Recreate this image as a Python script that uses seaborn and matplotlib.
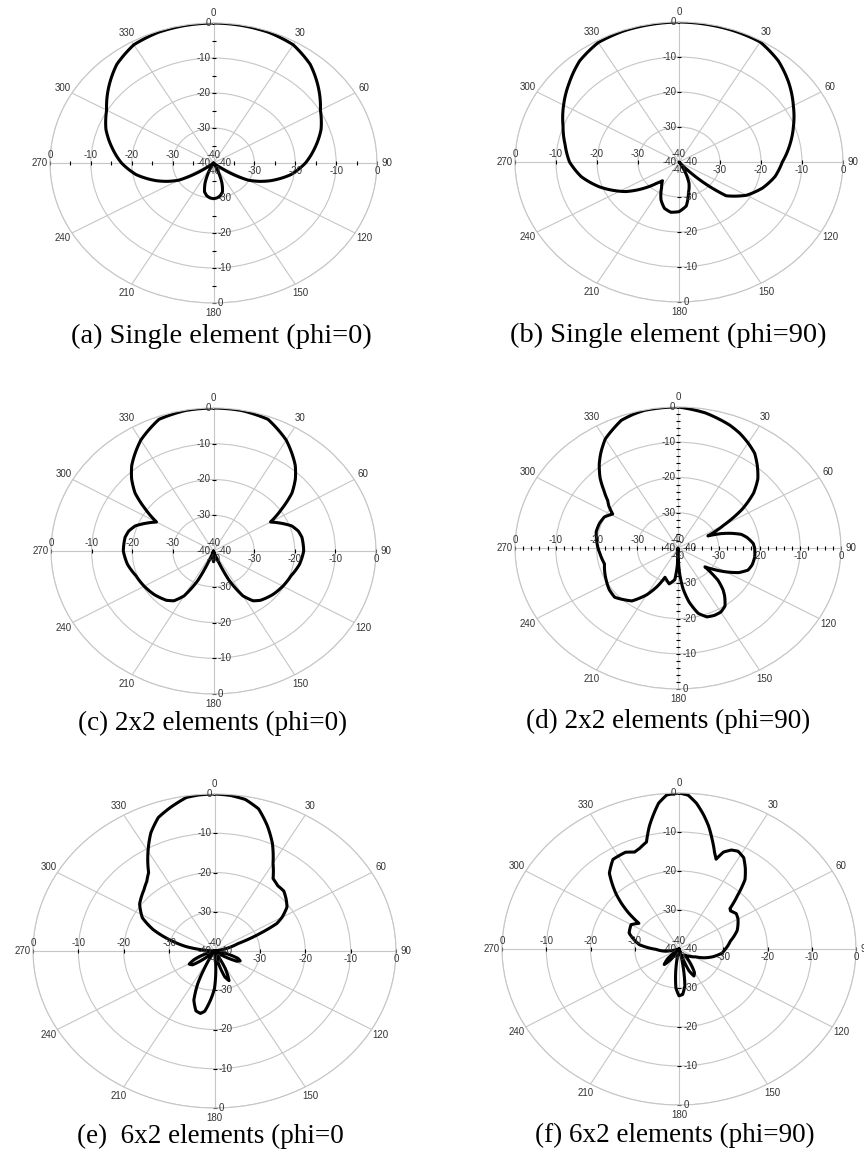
import numpy as np
import matplotlib
matplotlib.use("Agg")
import matplotlib.pyplot as plt
import seaborn as sns

# ---- radiation patterns (angle in deg, gain in dB) ----
a_angle = [0, 10, 20, 30, 40, 50, 60, 70, 80, 90, 100, 110, 115, 120, 124, 128, 132,
           150, 155, 160, 165, 170, 175, 180, 185, 190, 195, 200, 205, 210,
           228, 232, 236, 240, 245, 250, 260, 270, 280, 290, 300, 310, 320, 330, 340, 350, 360]
a_gain = [0, -0.1, -0.3, -1.0, -3.2, -6.5, -9.8, -12.0, -14.8, -17.5, -20.8, -25.2, -27.6, -30.2, -34, -38, -40,
          -40, -37.5, -34, -31.5, -30.5, -30, -29.8, -30, -30.5, -31.5, -34, -37.5, -40,
          -40, -38, -34, -30.2, -27.6, -25.2, -20.8, -17.5, -14.8, -12.0, -9.8, -6.5, -3.2, -1.0, -0.3, -0.1, 0]

b_angle = [0, 10, 20, 30, 40, 50, 60, 70, 80, 90, 100, 110, 120, 130, 134, 138, 142, 148,
           152, 158, 165, 172, 180, 188, 195, 202, 210, 217, 222, 228,
           237, 245, 250, 260, 270, 280, 290, 300, 310, 320, 330, 340, 350, 360]
b_gain = [0, -0.1, -0.2, -0.4, -2.3, -5.0, -7.8, -10.3, -12.6, -14.8, -16.2, -18.3, -21.0, -25.0, -31, -37, -40, -40,
          -37, -33.5, -31, -27.3, -25.8, -25.5, -26.3, -28.3, -31.5, -33.3, -31.8, -29,
          -24.5, -21.3, -19.3, -15.8, -13.3, -11.8, -9.9, -7.5, -5.0, -2.3, -0.6, -0.2, -0.1, 0]

c_angle = [0, 10, 20, 30, 40, 45, 50, 55, 60, 63, 66, 70, 75, 80, 90,
           100, 110, 120, 130, 140, 145, 150, 155, 158, 162, 170, 175, 180, 185, 190,
           198, 202, 205, 210, 215, 220, 230, 240, 250, 260, 270,
           280, 285, 290, 294, 297, 300, 305, 310, 315, 320, 330, 340, 350, 360]
c_gain = [0, -0.1, -0.8, -4.2, -8.7, -11.5, -14.8, -19.5, -23.8, -22.5, -21.2, -19.5, -18.4, -17.9, -17.8,
          -18.5, -19.7, -20.3, -21, -22, -23, -25.5, -31, -37, -40, -40, -38, -37, -38, -40,
          -40, -37, -31, -25.5, -23, -22, -21, -20.3, -19.7, -18.5, -17.8,
          -17.9, -18.4, -19.5, -21.2, -22.5, -23.8, -19.5, -14.8, -11.5, -8.7, -4.2, -0.8, -0.1, 0]

d_angle = [0, 10, 20, 25, 30, 35, 40, 45, 50, 55, 60, 65, 69, 72, 76, 80, 86, 90, 98, 105,
           110, 115, 120, 125, 129, 133, 137, 140, 145, 150, 155, 160, 165, 170, 174, 177, 180, 182, 185, 192,
           197, 201, 205, 210, 217, 228, 235, 242, 256, 265, 271, 283, 290, 296, 301, 305, 308, 312, 316, 321,
           325, 330, 335, 339, 344, 348, 356, 360]
d_gain = [0, -1.1, -2.9, -4.1, -5.6, -7.2, -9.7, -12.3, -15.8, -20.7, -27, -31.9, -28.6, -26.5, -24, -22.8, -21.5, -21.2, -21, -21.2,
          -21.7, -23.5, -26.5, -29.5, -31.5, -26.6, -23.8, -22.2, -19.9, -19, -18.9, -19.2, -20.8, -24.5, -28.5, -33, -40, -35, -31, -29.6,
          -30.5, -31.1, -28, -24.7, -21.2, -19.1, -19.4, -20.1, -21.4, -20.8, -20.3, -19.4, -19.5, -19.9, -21.3, -19.3, -18.1, -15.5, -12.5, -9.3,
          -7.0, -4.3, -2.6, -1.2, -0.5, -0.1, 0, 0]

e_angle = [0, 5, 10, 15, 20, 25, 30, 35, 40, 45, 50, 55, 60, 63, 66, 70, 76, 82, 100, 105,
           110, 114, 118, 122, 127, 147, 152, 157, 161, 165, 168, 172, 176, 180, 184, 188, 191, 195, 200, 204,
           207, 211, 224, 229, 234, 239, 244, 249, 253, 272, 276, 280, 286, 292, 298, 306, 315, 320, 324, 330,
           335, 340, 345, 351, 355, 360]
e_gain = [0, -0.2, -0.8, -2.5, -6.0, -9.8, -14.2, -17.5, -18.3, -18.4, -19.4, -20.5, -22.8, -24.6, -29, -34.5, -37.2, -40, -40, -37,
          -34.5, -33.8, -34.5, -37, -40, -40, -35, -31.8, -33, -37, -40, -40, -36, -30.5, -27.5, -24.5, -23.8, -24.2, -26.7, -31,
          -35.5, -40, -40, -37, -34, -33.5, -35, -37.5, -40, -40, -37.5, -33.8, -29.8, -25.4, -22, -19.6, -18, -16.8, -15.3, -10.7,
          -6.8, -3.8, -2.2, -0.4, -0.1, 0]

f_angle = [0, 3, 6, 9, 12, 15, 18, 20, 22, 25, 28, 32, 36, 40, 44, 48, 50, 55, 60, 65,
           70, 80, 90, 96, 105, 112, 118, 128, 135, 140, 145, 150, 154, 158, 163, 168, 172, 176, 180, 184,
           188, 192, 208, 214, 220, 226, 232, 252, 259, 269, 277, 290, 300, 306, 309, 312, 315, 321, 327, 334,
           338, 341, 345, 348, 351, 353, 356, 360]
f_gain = [0, -0.5, -2.4, -5, -7.8, -11, -14, -15.5, -13.2, -12, -11.6, -12.4, -14.5, -16.8, -21, -24.5, -24.8, -24.2, -24.6, -25.3,
          -26, -28.2, -29.5, -30.2, -32.2, -34, -35.7, -37, -37.5, -38, -35.5, -33, -32.3, -34, -40, -36, -30.5, -28.3, -28, -30,
          -35, -40, -40, -37, -34.8, -36.5, -40, -40, -37, -34.8, -31, -28, -27.5, -28.8, -25.4, -22.5, -19.8, -15, -12.6, -12.4,
          -13.2, -12.7, -11.6, -7.8, -4.5, -2.3, -0.4, 0]

captions = ["(a) Single element (phi=0)", "(b) Single element (phi=90)",
            "(c) 2x2 elements (phi=0)", "(d) 2x2 elements (phi=90)",
            "(e)  6x2 elements (phi=0", "(f) 6x2 elements (phi=90)"]
caption_size = [20.5, 20.5, 19.5, 19.5, 19.5, 19.5]
theta_ticks = list(range(0, 360, 30))
r_labels = [0, -10, -20, -30, -40]

# panel boxes in pixels: left, top, width, height ; caption x centre, baseline
panels = [
    (a_angle, a_gain, (50, 23, 327, 280), (221, 343), 5),
    (b_angle, b_gain, (515, 22, 328, 280), (668, 342), 10),
    (c_angle, c_gain, (51, 408, 325, 286), (213, 730), 10),
    (d_angle, d_gain, (515, 407, 326, 282), (668, 728), 2),
    (e_angle, e_gain, (33, 794, 363, 314), (210, 1143), 10),
    (f_angle, f_gain, (502, 793, 354, 312), (675, 1142), 10),
]

W, H = 864, 1156
sns.set_style("white")
plt.rcParams["font.family"] = ["Liberation Sans", "DejaVu Sans"]

fig = plt.figure(figsize=(W / 100, H / 100), dpi=100)
grid_col = "#c6c6c6"
lab_col = "#333333"

for (ang, gain, box, cap_pos, step), cap, csize in zip(panels, captions, caption_size):
    l, t, w, h = box
    ax = fig.add_axes([l / W, 1 - (t + h) / H, w / W, h / H], projection="polar")
    ax.set_aspect("auto")
    ax.set_theta_zero_location("N")
    ax.set_theta_direction(-1)

    sns.lineplot(x=np.deg2rad(ang), y=gain, ax=ax, sort=False, estimator=None,
                 color="black", linewidth=2.2)
    # let the polar transform follow the curve between the read points
    ax.lines[0].get_path()._interpolation_steps = 12
    ax.lines[0].set_solid_joinstyle("round")

    ax.set_ylim(-40, 0)
    ax.set_yticks([-30, -20, -10, 0])
    ax.set_yticklabels([])
    ax.set_thetagrids(theta_ticks, [str(a) for a in theta_ticks], fontsize=7, color=lab_col)
    ax.tick_params(axis="x", pad=-1, length=3, width=0.8, color="black", direction="inout")
    ax.grid(True, color=grid_col, linewidth=0.8)
    ax.spines["polar"].set_color(grid_col)
    ax.spines["polar"].set_linewidth(0.8)
    ax.set_xlabel("")
    ax.set_ylabel("")

    # small tick marks along the four half axes
    rv = np.arange(-40 + step, 0.01, step)
    for th, mk in [(0, "_"), (np.pi, "_"), (np.pi / 2, "|"), (3 * np.pi / 2, "|")]:
        ax.plot(np.full(len(rv), th), rv, ls="none", marker=mk, ms=3, mew=0.8,
                color="black", clip_on=False)

    # radial labels along the axes
    for r in r_labels:
        kw = dict(textcoords="offset points", fontsize=7, color=lab_col, annotation_clip=False)
        ax.annotate(str(r), xy=(0, r), xytext=(-2, 0), ha="right", va="center", **kw)
        ax.annotate(str(r), xy=(np.pi, r), xytext=(3, 0), ha="left", va="center", **kw)
        ax.annotate(str(r), xy=(3 * np.pi / 2, r), xytext=(0, 2.5), ha="center", va="bottom", **kw)
        ax.annotate(str(r), xy=(np.pi / 2, r), xytext=(0, -2.5), ha="center", va="top", **kw)

    cx, cy = cap_pos
    fig.text(cx / W, 1 - cy / H, cap, ha="center", va="baseline",
             fontfamily="Liberation Serif", fontsize=csize, color="black")

fig.savefig("out.png", dpi=100)
